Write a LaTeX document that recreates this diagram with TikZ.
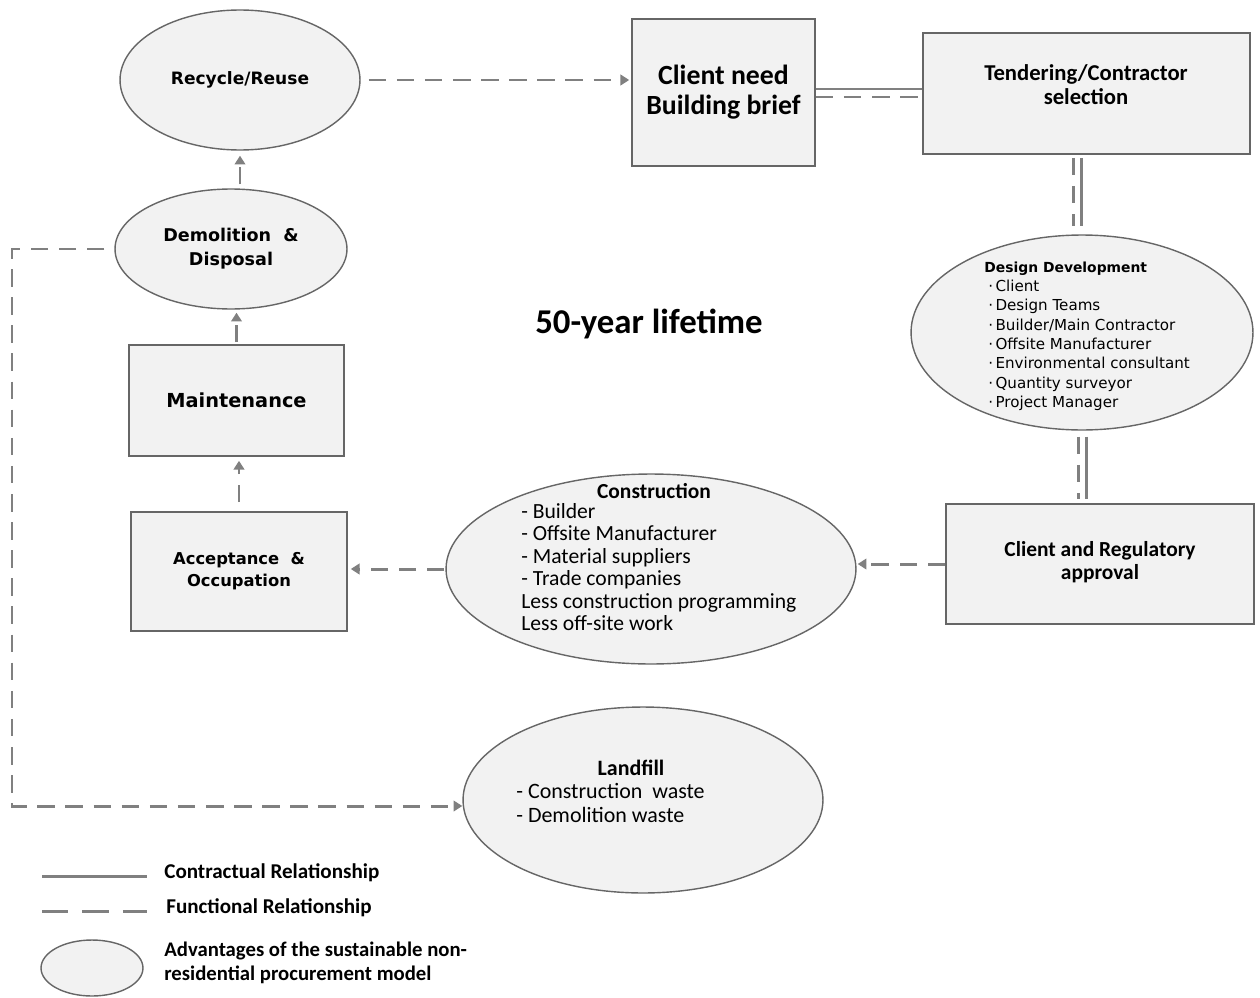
\documentclass[tikz,border=0pt]{standalone}
\usepackage{fontspec}
\setmainfont{Carlito}
\newfontfamily\wide{DejaVu Sans}
\usetikzlibrary{shapes.geometric,arrows.meta,calc}
\definecolor{lgray}{HTML}{808080}
\definecolor{edgec}{HTML}{666666}
\definecolor{fillg}{HTML}{F2F2F2}
\begin{document}
\begin{tikzpicture}[x=0.02cm,y=-0.02cm,
  boxst/.style={draw=edgec,fill=fillg,line width=0.9pt,inner sep=0pt},
  ellst/.style={ellipse,draw=edgec,fill=fillg,line width=0.8pt,inner sep=0pt},
  func/.style={draw=lgray,line width=1.7pt,dash pattern=on 10pt off 6pt},
  contr/.style={draw=lgray,line width=1.7pt},
  tip/.style={-{Triangle[length=5pt,width=6pt]}},
  widebf/.style={font={\wide\bfseries\fontsize{9.7}{13}\selectfont},align=center},
  calbf/.style={font={\bfseries\fontsize{12.9}{13.8}\selectfont},align=center},
  legtxt/.style={font={\bfseries\fontsize{12}{13}\selectfont},anchor=west,inner sep=0pt}]
\useasboundingbox (0,0) rectangle (1260,997);

% life-cycle stages on the left
\node[ellst,minimum width=4.8cm,minimum height=2.8cm,widebf] (recycle) at (240,80) {Recycle/Reuse};
\node[ellst,minimum width=4.64cm,minimum height=2.4cm,widebf,font={\wide\bfseries\fontsize{10}{13.5}\selectfont}] (demol) at (231,249) {Demolition\ \ \&\\Disposal};
\node[boxst,minimum width=4.3cm,minimum height=2.22cm,widebf,font={\wide\bfseries\fontsize{11}{13}\selectfont}] (maint) at (236.5,400.5) {Maintenance};
\node[boxst,minimum width=4.32cm,minimum height=2.38cm,widebf,font={\wide\bfseries\fontsize{9.3}{12.5}\selectfont}] (accept) at (239,571.5) {Acceptance \ \&\\Occupation};

% procurement stages
\node[boxst,minimum width=3.66cm,minimum height=2.94cm,font={\bfseries\fontsize{15.8}{17}\selectfont},align=center] (client) at (723.5,92.5) {Client need\\Building brief};
\node[boxst,minimum width=6.54cm,minimum height=2.42cm] (tender) at (1086.5,93.5) {};
\node[calbf] (tendertxt) at (1086,85) {Tendering/Contractor\\selection};
\node[ellst,minimum width=6.84cm,minimum height=3.9cm] (design) at (1082,332.5) {};
\node[font={\wide\fontsize{8.6}{11}\selectfont},align=left] (designtxt) at (1089,336)
  {\hspace{-0.25em}{\fontsize{7.9}{11}\selectfont\textbf{Design Development}}\\
   ·\,Client\\
   ·\,Design Teams\\
   ·\,Builder/Main Contractor\\
   ·\,Offsite Manufacturer\\
   ·\,Environmental consultant\\
   ·\,Quantity surveyor\\
   ·\,Project Manager};
\node[boxst,minimum width=6.16cm,minimum height=2.4cm] (approval) at (1100,564) {};
\node[calbf,font={\bfseries\fontsize{12.2}{12.8}\selectfont}] (approvaltxt) at (1100,562) {Client and Regulatory\\approval};
\node[ellst,minimum width=8.2cm,minimum height=3.8cm] (constr) at (651,569) {};
\node[font={\bfseries\fontsize{12.2}{12}\selectfont}] (constrtitle) at (654,491) {Construction};
\node[font={\fontsize{12.3}{12.8}\selectfont},align=left,anchor=north west,inner sep=0pt] (constrlist) at (521,503)
  {- Builder\\
   - Offsite Manufacturer\\
   - Material suppliers\\
   - Trade companies\\
   Less construction programming\\
   Less off-site work};
\node[ellst,minimum width=7.2cm,minimum height=3.72cm] (landfill) at (643,800) {};
\node[font={\bfseries\fontsize{12.5}{12}\selectfont}] (landtitle) at (631,768) {Landfill};
\node[font={\fontsize{12.5}{13.6}\selectfont},align=left,anchor=north west,inner sep=0pt] (landlist) at (516,783)
  {- Construction\ \ waste\\
   - Demolition waste};

\node[font={\bfseries\fontsize{19.8}{20}\selectfont}] (lifetime) at (649,324) {50-year lifetime};

% functional relationships (dashed)
\draw[func,tip,shorten <=0.16cm,shorten >=0.04cm] (recycle.east) -- (recycle.east -| client.west);
\draw[func,tip,shorten <=0.08cm,shorten >=0.1cm] (recycle.south |- demol.north) -- (recycle.south);
\draw[func,tip,shorten <=0.04cm,shorten >=0.06cm] (maint.north) -- (maint.north |- demol.south);
\draw[func,tip,shorten <=0.18cm,shorten >=0.08cm] (accept.north) -- (accept.north |- maint.south);
\draw[func,tip,shorten <=0.02cm,shorten >=0.06cm] (constr.west) -- (constr.west -| accept.east);
\draw[func,tip,shorten >=0.02cm] (approval.west) -- (approval.west -| constr.east);
\coordinate (lfa) at (12,249);
\coordinate (lfb) at (12,806);
\draw[func,tip,shorten <=0.2cm] (demol.west) -- (lfa) -- (lfb) -- (lfb -| landfill.west);

% contractual + functional pairs
\draw[contr] ($(client.east)+(0,-3.5)$) -- ($(client.east -| tender.west)+(0,-3.5)$);
\draw[func] ($(client.east)+(0,4.5)$) -- ($(client.east -| tender.west)+(0,4.5)$);
\draw[func] ($(tender.south -| design.north)+(-9,3)$) -- ($(design.north)+(-9,-8)$);
\draw[contr] ($(tender.south -| design.north)+(-1,3)$) -- ($(design.north)+(-1,-8)$);
\draw[func] ($(design.south)+(-4,6)$) -- ($(design.south |- approval.north)+(-4,-4)$);
\draw[contr] ($(design.south)+(4,6)$) -- ($(design.south |- approval.north)+(4,-4)$);

% legend
\coordinate (lga) at (42,876);
\coordinate (lgb) at (147,876);
\coordinate (lgc) at (42,911);
\coordinate (lgd) at (147,911);
\draw[contr] (lga) -- (lgb);
\draw[func,dash pattern=on 15pt off 8pt] (lgc) -- (lgd);
\node[ellst,minimum width=2.04cm,minimum height=1.12cm] (lgell) at (92,968) {};
\node[legtxt] (lgtxta) at (164,873) {Contractual Relationship};
\node[legtxt] (lgtxtb) at (166,908) {Functional Relationship};
\node[legtxt,font={\bfseries\fontsize{11.8}{13.5}\selectfont},align=left] (lgtxtc) at (164,963) {Advantages of the sustainable non-\\residential procurement model};
\end{tikzpicture}
\end{document}
